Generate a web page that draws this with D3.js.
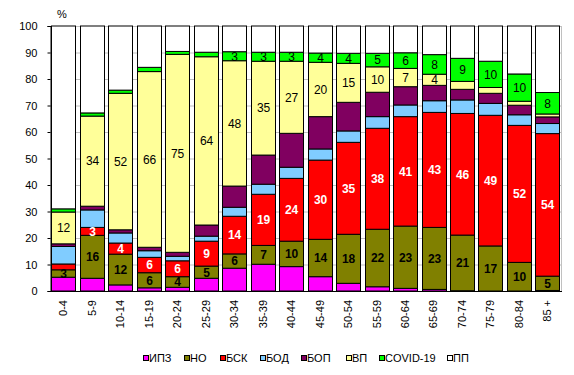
<!DOCTYPE html>
<html><head><meta charset="utf-8">
<script src="https://cdn.jsdelivr.net/npm/d3@7"></script>
<style>body{margin:0;background:#fff;}svg{display:block;font-family:Arial,"Liberation Sans",sans-serif;}</style>
</head><body><svg id="c" width="574" height="375"></svg>
<script>
const categories = ["0-4","5-9","10-14","15-19","20-24","25-29","30-34","35-39","40-44","45-49","50-54","55-59","60-64","65-69","70-74","75-79","80-84","85 +"];
const seriesNames = ["ИПЗ","НО","БСК","БОД","БОП","ВП","COVID-19","ПП"];
const seriesColors = ["#FF00FF","#808000","#FF0000","#80CCFF","#800060","#FFFF99","#00FF00","#FFFFFF"];
const ipz   = [5.2,4.8,2.3,1.2,1.4,4.8,8.6,10.1,9.2,5.4,2.9,1.6,1.0,0.6,0.1,0,0,0.2];
const no    = [2.8,16.2,11.6,5.7,4.0,4.6,5.4,7.1,9.6,14.1,18.5,21.7,23.5,23.4,21.0,17.0,10.8,5.4];
const bsk   = [2.2,3.0,4.2,5.8,6.0,9.4,14.2,19.3,23.7,29.9,34.7,38.1,41.3,43.4,45.9,49.3,51.7,53.8];
const bod   = [6.6,6.6,3.8,2.5,1.7,1.9,3.4,3.8,4.2,4.2,4.3,4.4,4.4,4.4,5.1,4.5,4.0,3.8];
const bop   = [1.0,1.4,1.2,1.3,1.5,4.2,8.0,11.0,12.8,12.2,10.8,9.2,6.9,5.8,4.0,3.8,3.6,2.5];
const vp    = [12.0,34.0,51.5,66.3,74.7,63.5,47.3,35.4,27.2,20.5,14.7,9.6,6.9,4.2,3.0,2.2,1.5,1.1];
const covid = [1.2,1.2,1.2,1.6,1.1,1.7,3.4,3.4,3.4,3.5,3.8,5.1,5.9,7.4,8.7,9.9,10.3,8.1];
const pp = categories.map((c,i)=>100-(ipz[i]+no[i]+bsk[i]+bod[i]+bop[i]+vp[i]+covid[i]));
// shown data labels (null = no label)
const noLabels    = [3,16,12,6,4,5,6,7,10,14,18,22,23,23,21,17,10,5];
const bskLabels   = [null,3,4,6,6,9,14,19,24,30,35,38,41,43,46,49,52,54];
const vpLabels    = [12,34,52,66,75,64,48,35,27,20,15,10,7,4,null,null,null,null];
const covidLabels = [null,null,null,null,null,null,3,3,3,4,4,5,6,8,9,10,10,8];
const yTicks = [0,10,20,30,40,50,60,70,80,90,100];

const seriesVals = [ipz,no,bsk,bod,bop,vp,covid,pp];
const labelSets = [null,noLabels,bskLabels,null,null,vpLabels,covidLabels,null];
const labelStyle = [null,{fill:"#000",weight:"bold"},{fill:"#fff",weight:"bold"},null,null,{fill:"#000",weight:"normal"},{fill:"#000",weight:"normal"},null];

const rows = categories.map((c,i)=>{const r={cat:c}; seriesNames.forEach((s,k)=>r[s]=seriesVals[k][i]); return r;});
const stack = d3.stack().keys(seriesNames)(rows);

const svg = d3.select("#c");
const L=50,R=561,T=26,B=291;
const x = d3.scaleBand().domain(categories).range([L,R]).paddingInner(0.15).paddingOuter(0.05);
const y = d3.scaleLinear().domain([0,100]).range([B,T]);

// gridlines
svg.append("g").selectAll("line").data(yTicks.filter(t=>t>0)).join("line")
  .attr("x1",L).attr("x2",R).attr("y1",d=>y(d)+0.5).attr("y2",d=>y(d)+0.5)
  .attr("stroke","#c0c0c0").attr("stroke-width",1);
svg.append("line").attr("x1",R+0.5).attr("x2",R+0.5).attr("y1",T).attr("y2",B).attr("stroke","#c0c0c0");

// bars
const g = svg.append("g");
stack.forEach((layer,k)=>{
  g.append("g").selectAll("rect").data(layer).join("rect")
    .attr("x",d=>Math.round(x(d.data.cat))+0.5)
    .attr("width",Math.round(x.bandwidth()))
    .attr("y",d=>y(d[1]))
    .attr("height",d=>Math.max(0,y(d[0])-y(d[1])))
    .attr("fill",seriesColors[k])
    .attr("stroke","#000").attr("stroke-width",1)
    .attr("display",d=>(d[1]-d[0])>0.05?null:"none");
});
// labels
stack.forEach((layer,k)=>{
  const labs = labelSets[k]; if(!labs) return;
  g.append("g").selectAll("text").data(layer).join("text")
    .filter((d,i)=>labs[i]!=null)
    .attr("x",d=>Math.round(x(d.data.cat))+0.5+x.bandwidth()/2)
    .attr("y",d=>(y(d[0])+y(d[1]))/2)
    .attr("dy","0.36em")
    .attr("text-anchor","middle")
    .attr("font-size","12px")
    .attr("font-weight",labelStyle[k].weight)
    .attr("fill",labelStyle[k].fill)
    .text((d,i)=>labs[categories.indexOf(d.data.cat)]);
});

// axes
const ya = d3.axisLeft(y).tickValues(yTicks).tickSize(3).tickPadding(10);
svg.append("g").attr("transform",`translate(${L+0.5},0)`).call(ya)
  .call(s=>{s.select(".domain").attr("stroke","#000");s.selectAll("text").attr("font-size","11px").attr("fill","#000").attr("font-family","Arial,'Liberation Sans',sans-serif");});
svg.append("line").attr("x1",L).attr("x2",R+1).attr("y1",B+0.5).attr("y2",B+0.5).attr("stroke","#000");
const xa = d3.axisBottom(x).tickSize(0).tickPadding(0);
svg.append("g").attr("transform",`translate(0,${B})`).call(xa)
  .call(s=>{s.select(".domain").remove();
    s.selectAll("text").attr("font-size","11px").attr("fill","#000").attr("font-family","Arial,'Liberation Sans',sans-serif")
     .attr("transform","rotate(-90)").attr("text-anchor","end").attr("x",-9).attr("y",0).attr("dy","0.35em");});
svg.append("text").attr("x",62).attr("y",18).attr("text-anchor","middle").attr("font-size","11px").text("%");

// legend
const legX = [143,184,220,260,301,346,379,447];
const leg = svg.append("g");
seriesNames.forEach((s,k)=>{
  leg.append("rect").attr("x",legX[k]+0.5).attr("y",355.5).attr("width",5).attr("height",5)
    .attr("fill",seriesColors[k]).attr("stroke","#000").attr("stroke-width",1);
  leg.append("text").attr("x",legX[k]+6).attr("y",358.5).attr("dy","0.36em").attr("font-size","11px").text(s);
});
</script></body></html>
